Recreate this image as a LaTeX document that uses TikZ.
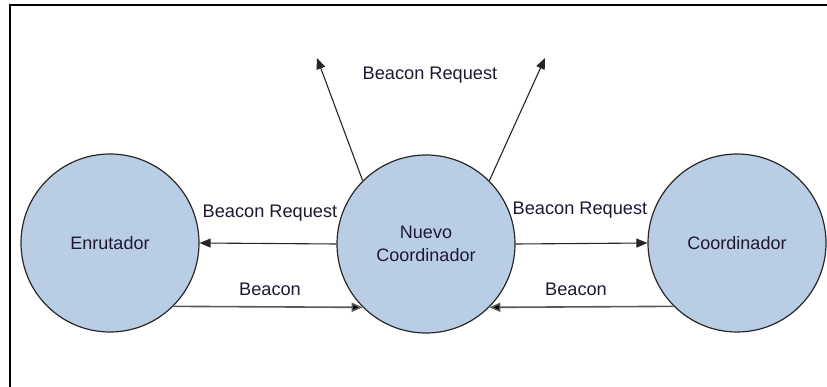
\documentclass[tikz,border=0pt]{standalone}
\usepackage{fontspec}
\setmainfont{Liberation Sans}
\usetikzlibrary{arrows.meta}
\definecolor{nodefill}{RGB}{185,205,228}
\definecolor{nodeline}{RGB}{40,40,40}
\definecolor{txt}{RGB}{30,25,50}
\tikzset{
  statenode/.style={circle, draw=nodeline, line width=1.2pt, fill=nodefill,
    minimum size=178pt, inner sep=0pt, text=txt, align=center,
    font=\fontsize{18}{23}\selectfont},
  lbl/.style={text=txt, font=\fontsize{18.2}{21}\selectfont, inner sep=0pt},
  conn/.style={line width=1.1pt, draw=black!85, -{Triangle[length=11pt,width=9pt]}},
  connlow/.style={line width=1.6pt, draw=black!65, -{Triangle[length=11pt,width=9pt,fill=black]}}
}
\begin{document}
\begin{tikzpicture}[x=1pt,y=-1pt]
\useasboundingbox (0,0) rectangle (827,387);
\draw[line width=2pt, line cap=rect] (10,390) -- (10,5) -- (830,5);
\node[statenode] (enr) at (110,243) {Enrutador};
\node[statenode] (nc) at (426,244) {Nuevo\\Coordinador};
\node[statenode] (coord) at (737,243) {Coordinador};
\coordinate (upl) at (317,58);
\coordinate (upr) at (545,58);
\draw[conn] (nc.180) -- (enr.0);
\draw[conn] (nc.0) -- (coord.180);
\draw[connlow] (enr.-45) -- (nc.-135);
\draw[connlow] (coord.-135) -- (nc.-45);
\draw[conn] (nc.135) -- (upl);
\draw[conn] (nc.45) -- (upr);
\node[lbl] (l1) at (430,75) {Beacon Request};
\node[lbl] (l2) at (270,213) {Beacon Request};
\node[lbl] (l3) at (580,210) {Beacon Request};
\node[lbl] (l4) at (270,289) {Beacon};
\node[lbl] (l5) at (576,289) {Beacon};
\end{tikzpicture}
\end{document}
